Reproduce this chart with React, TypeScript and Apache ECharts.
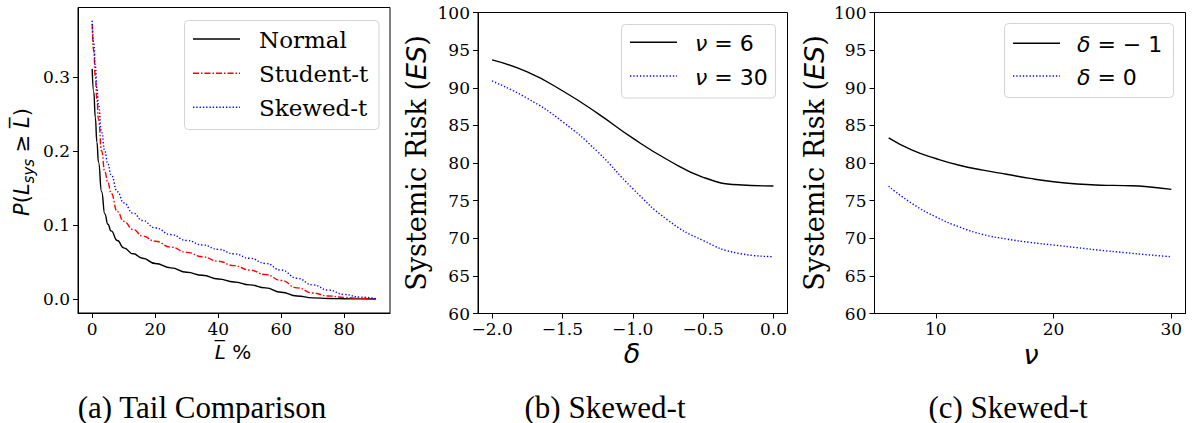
import React, { useEffect, useRef } from "react";
import * as echarts from "echarts";

// Panel (a): tail comparison
const tailX = [0, 0.5, 1, 1.5, 2, 3, 4, 5, 6, 8, 10, 13, 16, 20, 25, 30, 35, 40, 45, 50, 55, 60, 65, 70, 75, 80, 85, 90];
const normalY = [0.311, 0.28, 0.245, 0.212, 0.185, 0.145, 0.115, 0.101, 0.092, 0.079, 0.069, 0.061, 0.055, 0.048, 0.042, 0.036, 0.032, 0.027, 0.023, 0.019, 0.015, 0.009, 0.004, 0.0015, 0.0006, 0.0002, 0.0001, 0];
const studentY = [0.372, 0.335, 0.3, 0.27, 0.243, 0.2, 0.172, 0.157, 0.143, 0.118, 0.105, 0.094, 0.085, 0.078, 0.07, 0.063, 0.057, 0.051, 0.045, 0.039, 0.033, 0.025, 0.015, 0.008, 0.004, 0.002, 0.0008, 0];
const skewedY = [0.376, 0.345, 0.315, 0.285, 0.262, 0.225, 0.2, 0.182, 0.168, 0.145, 0.13, 0.116, 0.106, 0.096, 0.087, 0.079, 0.073, 0.067, 0.061, 0.055, 0.048, 0.039, 0.028, 0.019, 0.012, 0.006, 0.0025, 0.0005];
const tailXTicks = [0, 20, 40, 60, 80];
const tailYTicks = [0, 0.1, 0.2, 0.3];

// Panel (b): ES vs delta
const deltaX = [-2, -1.75, -1.5, -1.25, -1, -0.75, -0.5, -0.25, 0];
const esNu6 = [93.7, 92.1, 89.6, 86.6, 83.3, 80.4, 78.1, 77.1, 76.95];
const esNu30 = [90.9, 88.6, 85.5, 81.5, 76.6, 72.4, 69.7, 68.0, 67.55];
const deltaTicks = [-2, -1.5, -1, -0.5, 0];

// Panel (c): ES vs nu
const nuX = [6, 8, 10, 12, 14, 16, 18, 20, 22, 24, 26, 28, 30];
const esDeltaM1 = [83.35, 81.7, 80.6, 79.7, 79.05, 78.5, 77.95, 77.5, 77.2, 77.05, 77.0, 76.85, 76.5];
const esDelta0 = [76.9, 74.6, 72.85, 71.5, 70.5, 69.9, 69.45, 69.1, 68.75, 68.4, 68.1, 67.8, 67.55];
const nuTicks = [10, 20, 30];

const pairs = (xs: number[], ys: number[]) => xs.map((x, i) => [x, ys[i]]);

const SERIF = "DejaVu Serif";
const SANS = "DejaVu Sans";

function xAxisCfg(gridIndex: number, min: number, max: number, ticks: number[], fmt: (v: number) => string) {
  return {
    type: "value",
    gridIndex,
    min,
    max,
    axisLine: { show: true, onZero: false, lineStyle: { color: "#000", width: 1 } },
    axisTick: { show: true, inside: false, length: 5, customValues: ticks, lineStyle: { color: "#000", width: 1 } },
    axisLabel: { customValues: ticks, formatter: fmt, margin: 7, color: "#000", fontFamily: SERIF, fontSize: 17 },
    splitLine: { show: false },
  };
}

function yAxisCfg(gridIndex: number, min: number, max: number, extra: any, fmt: (v: number) => string) {
  return {
    type: "value",
    gridIndex,
    min,
    max,
    ...extra,
    axisLine: { show: true, onZero: false, lineStyle: { color: "#000", width: 1 } },
    axisTick: { show: true, inside: false, length: 5, customValues: extra.ticks, lineStyle: { color: "#000", width: 1 } },
    axisLabel: { customValues: extra.ticks, formatter: fmt, margin: 8, color: "#000", fontFamily: SERIF, fontSize: 17 },
    splitLine: { show: false },
  };
}

const fmt1 = (v: number) => (v < -1e-9 ? "\u2212" : "") + Math.abs(v).toFixed(1);
const fmt0 = (v: number) => String(Math.round(v));

function lineSeries(xi: number, data: number[][], color: string, type: any, smoothMono?: boolean) {
  return {
    type: "line",
    xAxisIndex: xi,
    yAxisIndex: xi,
    data,
    symbol: "none",
    showSymbol: false,
    smooth: true,
    smoothMonotone: smoothMono ? "x" : undefined,
    lineStyle: { color, width: 1.4, type },
    silent: true,
  };
}

const RED_DASH = [6, 2, 1.5, 2];
const DOT = [1.3, 2];

function legendBox(x: number, y: number, w: number, h: number) {
  return {
    type: "rect",
    shape: { x, y, width: w, height: h, r: 4 },
    style: { fill: "rgba(255,255,255,0.8)", stroke: "#d4d4d4", lineWidth: 1 },
    z: 10,
  };
}
function legendLine(x1: number, x2: number, y: number, color: string, dash: any) {
  return {
    type: "line",
    shape: { x1, y1: y, x2, y2: y },
    style: { stroke: color, lineWidth: 1.4, lineDash: dash },
    z: 11,
  };
}
function legendText(x: number, y: number, text: string, font: string, size: number, rich?: any) {
  return {
    type: "text",
    x,
    y,
    style: { text, fontFamily: font, fontSize: size, fill: "#000", align: "left", verticalAlign: "middle", rich },
    z: 11,
  };
}

export default function App() {
  const ref = useRef<HTMLDivElement>(null);
  useEffect(() => {
    const chart = echarts.init(ref.current!, null, { renderer: "svg" });
    const grids = [
      { left: 78, top: 7.5, width: 312, height: 305.5 },
      { left: 478, top: 12.5, width: 309.5, height: 301 },
      { left: 874.5, top: 12.5, width: 311, height: 301 },
    ].map((g) => ({ ...g, show: true, borderColor: "#000", borderWidth: 1, backgroundColor: "transparent", containLabel: false, outerBoundsMode: "none" }));

    const mathRich = {
      i: { fontFamily: SANS, fontStyle: "italic", fontSize: 22 },
      n: { fontFamily: SANS, fontSize: 22 },
    };

    const option: any = {
      animation: false,
      textStyle: { fontFamily: SERIF },
      grid: grids,
      xAxis: [
        xAxisCfg(0, -4.5, 94.5, tailXTicks, fmt0),
        xAxisCfg(1, -2.1, 0.1, deltaTicks, fmt1),
        xAxisCfg(2, 4.8, 31.2, nuTicks, fmt0),
      ],
      yAxis: [
        yAxisCfg(0, -0.019, 0.394, { ticks: tailYTicks }, fmt1),
        yAxisCfg(1, 60, 100, { interval: 5 }, fmt0),
        yAxisCfg(2, 60, 100, { interval: 5 }, fmt0),
      ],
      series: [
        lineSeries(0, pairs(tailX, normalY), "#000", "solid", true),
        lineSeries(0, pairs(tailX, studentY), "#ff0000", RED_DASH, true),
        lineSeries(0, pairs(tailX, skewedY), "#0000ff", DOT, true),
        lineSeries(1, pairs(deltaX, esNu6), "#000", "solid"),
        lineSeries(1, pairs(deltaX, esNu30), "#0000ff", DOT),
        lineSeries(2, pairs(nuX, esDeltaM1), "#000", "solid"),
        lineSeries(2, pairs(nuX, esDelta0), "#0000ff", DOT),
      ],
      graphic: [
        // legend (a)
        legendBox(184.5, 20.5, 194.5, 109),
        legendLine(193, 240, 39, "#000", null),
        legendLine(193, 240, 73.3, "#ff0000", RED_DASH),
        legendLine(193, 240, 107.3, "#0000ff", DOT),
        legendText(259, 40, "Normal", SERIF, 23),
        legendText(259, 74, "Student-t", SERIF, 23),
        legendText(259, 108, "Skewed-t", SERIF, 23),
        // legend (b)
        legendBox(621.5, 24.5, 154, 73.5),
        legendLine(630, 677, 42.3, "#000", null),
        legendLine(630, 677, 76, "#0000ff", DOT),
        legendText(695, 43, "{i|\u03bd}{n| = 6}", SANS, 22, mathRich),
        legendText(695, 77, "{i|\u03bd}{n| = 30}", SANS, 22, mathRich),
        // legend (c)
        legendBox(1004.5, 23.5, 169, 74),
        legendLine(1013, 1060, 43.3, "#000", null),
        legendLine(1013, 1060, 76, "#0000ff", DOT),
        legendText(1077, 44, "{i|\u03b4}{n| = \u2212 1}", SANS, 22, mathRich),
        legendText(1077, 77, "{i|\u03b4}{n| = 0}", SANS, 22, mathRich),
        // y labels
        {
          type: "text",
          x: 22,
          y: 162,
          rotation: Math.PI / 2,
          style: {
            text: "{i|P}{n|(}{i|L}{s|sys}{n| \u2265 }{i|L\u0305}{n|)}",
            align: "center",
            verticalAlign: "middle",
            fill: "#000",
            rich: {
              i: { fontFamily: SANS, fontStyle: "italic", fontSize: 21, lineHeight: 28, verticalAlign: "middle" },
              n: { fontFamily: SANS, fontSize: 21, lineHeight: 28, verticalAlign: "middle" },
              s: { fontFamily: SANS, fontStyle: "italic", fontSize: 15, lineHeight: 15, verticalAlign: "bottom" },
            },
          },
        },
        {
          type: "text",
          x: 416,
          y: 163,
          rotation: Math.PI / 2,
          style: {
            text: "{r|Systemic Risk (}{i|ES}{r|)}",
            align: "center",
            verticalAlign: "middle",
            fill: "#000",
            rich: {
              r: { fontFamily: SERIF, fontSize: 27 },
              i: { fontFamily: SANS, fontStyle: "italic", fontSize: 27 },
            },
          },
        },
        {
          type: "text",
          x: 814,
          y: 163,
          rotation: Math.PI / 2,
          style: {
            text: "{r|Systemic Risk (}{i|ES}{r|)}",
            align: "center",
            verticalAlign: "middle",
            fill: "#000",
            rich: {
              r: { fontFamily: SERIF, fontSize: 27 },
              i: { fontFamily: SANS, fontStyle: "italic", fontSize: 27 },
            },
          },
        },
        // x labels
        {
          type: "text",
          x: 233,
          y: 352,
          style: {
            text: "{i|L\u0305}{n| %}",
            align: "center",
            verticalAlign: "middle",
            fill: "#000",
            rich: {
              i: { fontFamily: SANS, fontStyle: "italic", fontSize: 20 },
              n: { fontFamily: SANS, fontSize: 20 },
            },
          },
        },
        {
          type: "text",
          x: 632,
          y: 353,
          style: { text: "\u03b4", fontFamily: SANS, fontStyle: "italic", fontSize: 27, align: "center", verticalAlign: "middle", fill: "#000" },
        },
        {
          type: "text",
          x: 1031,
          y: 354,
          style: { text: "\u03bd", fontFamily: SANS, fontStyle: "italic", fontSize: 27, align: "center", verticalAlign: "middle", fill: "#000" },
        },
        // captions
        {
          type: "text",
          x: 202,
          y: 407,
          style: { text: "(a) Tail Comparison", fontFamily: "Liberation Serif", fontSize: 31, align: "center", verticalAlign: "middle", fill: "#000" },
        },
        {
          type: "text",
          x: 605,
          y: 407,
          style: { text: "(b) Skewed-t", fontFamily: "Liberation Serif", fontSize: 31, align: "center", verticalAlign: "middle", fill: "#000" },
        },
        {
          type: "text",
          x: 1008,
          y: 407,
          style: { text: "(c) Skewed-t", fontFamily: "Liberation Serif", fontSize: 31, align: "center", verticalAlign: "middle", fill: "#000" },
        },
      ],
    };
    chart.setOption(option);
    return () => chart.dispose();
  }, []);
  return (
    <div
      ref={ref}
      style={{ position: "absolute", left: 0, top: 0, width: 1192, height: 423, background: "#fff" }}
    />
  );
}
